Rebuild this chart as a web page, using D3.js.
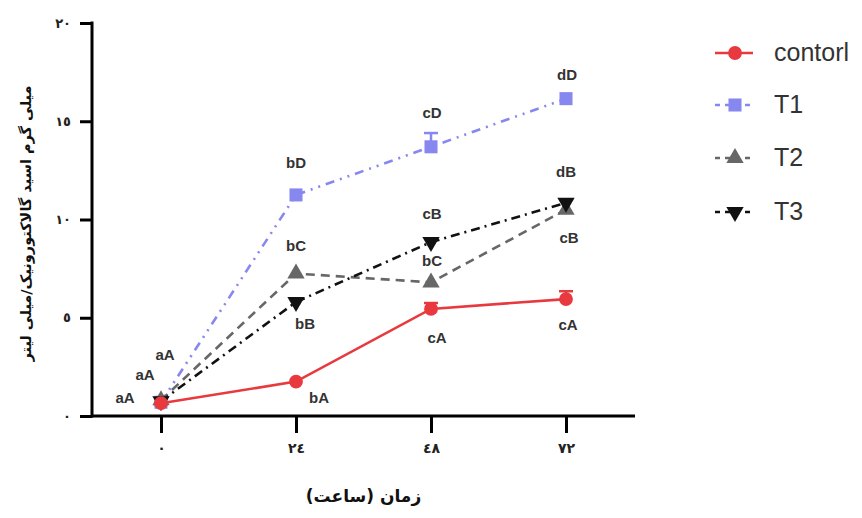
<!DOCTYPE html>
<html>
<head>
<meta charset="utf-8">
<script src="https://cdn.jsdelivr.net/npm/d3@7/dist/d3.min.js"></script>
<style>
  html, body { margin: 0; padding: 0; background: #fff; }
  svg { display: block; }
</style>
</head>
<body>
<svg id="chart" width="862" height="518"></svg>
<script>
// ---------- data ----------
const hours = [0, 24, 48, 72];
const xTickLabels = ["٠", "٢٤", "٤٨", "٧٢"];
const yTicks = [0, 5, 10, 15, 20];
const yTickLabels = ["٠", "٥", "١٠", "١٥", "٢٠"];
const seriesNames = ["contorl", "T1", "T2", "T3"];

const controlValues = [0.65, 1.75, 5.45, 5.95];
const t1Values = [0.7, 11.25, 13.7, 16.15];
const t2Values = [0.8, 7.25, 6.8, 10.5];
const t3Values = [0.75, 5.8, 8.85, 10.85];

const controlErr = [0.1, 0.1, 0.3, 0.4];
const t1Err = [0.1, 0.1, 0.7, 0.1];
const t2Err = [0.1, 0.1, 0.1, 0.1];
const t3Err = [0.1, 0.1, 0.1, 0.1];

const controlLetters = ["aA", "bA", "cA", "cA"];
const t1Letters = ["aA", "bD", "cD", "dD"];
const t2Letters = ["aA", "bC", "bC", "cB"];
const t3Letters = ["", "bB", "cB", "dB"];

const xTitle = "زمان (ساعت)";
const yTitle = "میلی گرم اسید گالاکتورونیک/میلی لیتر";

// ---------- layout / style ----------
const styles = {
  "contorl": { color: "#e8393f", dash: null, marker: "circle", letterOffsets: [[-36,-4],[23,17],[6,30],[2,27]] },
  "T1": { color: "#8787f0", dash: "9,6,2,6,2,6", marker: "square", letterOffsets: [[4,-46],[0,-31],[1,-33],[1,-23]] },
  "T2": { color: "#676767", dash: "9,6", marker: "triangle", letterOffsets: [[-16,-24],[0,-27],[1,-20],[3,29]] },
  "T3": { color: "#111111", dash: "9,5,2,5", marker: "triangleDown", letterOffsets: [[0,0],[9,23],[1,-27],[0,-30]] }
};

const series = [
  { name: "T1", values: t1Values, err: t1Err, letters: t1Letters },
  { name: "T2", values: t2Values, err: t2Err, letters: t2Letters },
  { name: "T3", values: t3Values, err: t3Err, letters: t3Letters },
  { name: "contorl", values: controlValues, err: controlErr, letters: controlLetters }
];

const svg = d3.select("#chart");
const axisX = 92, axisY = 416, axisRight = 635;

const x = d3.scaleLinear().domain([0, 72]).range([161, 566]);
const y = d3.scaleLinear().domain([0, 20]).range([416, 23]);

// ---------- axes ----------
const yAxis = d3.axisLeft(y).tickValues(yTicks).tickSize(12)
  .tickFormat((d, i) => yTickLabels[i]);
const gy = svg.append("g").attr("transform", `translate(${axisX},0)`).call(yAxis);
gy.select(".domain").remove();
gy.selectAll(".tick line").attr("stroke", "#000").attr("stroke-width", 3);
gy.selectAll(".tick text").attr("x", -21)
  .style("font-family", "'DejaVu Sans', sans-serif").style("font-size", "13px").style("font-weight", "bold").attr("fill", "#222");

const xAxis = d3.axisBottom(x).tickValues(hours).tickSize(17)
  .tickFormat((d, i) => xTickLabels[i]);
const gx = svg.append("g").attr("transform", `translate(0,${axisY})`).call(xAxis);
gx.select(".domain").remove();
gx.selectAll(".tick line").attr("stroke", "#000").attr("stroke-width", 3);
gx.selectAll(".tick text").attr("y", 27)
  .style("font-family", "'DejaVu Sans', sans-serif").style("font-size", "14px").style("font-weight", "bold").attr("fill", "#222");

svg.append("line").attr("x1", axisX).attr("x2", axisX).attr("y1", y(20) - 1.5).attr("y2", axisY + 1.5)
  .attr("stroke", "#000").attr("stroke-width", 3);
svg.append("line").attr("x1", axisX).attr("x2", axisRight).attr("y1", axisY).attr("y2", axisY)
  .attr("stroke", "#000").attr("stroke-width", 3);

// axis titles
svg.append("text").attr("x", (x(0) + x(72)) / 2).attr("y", 497)
  .attr("text-anchor", "middle").attr("dominant-baseline", "middle")
  .style("font-family", "'DejaVu Sans', sans-serif").style("font-size", "17px").style("font-weight", "bold")
  .attr("fill", "#111").attr("direction", "rtl").text(xTitle);

svg.append("text").attr("transform", `translate(27,${(y(20) + y(0)) / 2 + 4}) rotate(-90)`)
  .attr("text-anchor", "middle").attr("dominant-baseline", "middle")
  .style("font-family", "'DejaVu Sans', sans-serif").style("font-size", "14.5px").style("font-weight", "bold")
  .attr("fill", "#111").text(yTitle);

// ---------- series ----------
const symbolFor = {
  circle: d3.symbol().type(d3.symbolCircle).size(150),
  square: d3.symbol().type(d3.symbolSquare).size(170),
  triangle: d3.symbol().type(d3.symbolTriangle).size(130),
  triangleDown: d3.symbol().type(d3.symbolTriangle).size(130)
};

const line = d3.line().x((d, i) => x(hours[i])).y(d => y(d));

series.forEach(s => {
  const st = styles[s.name];
  const g = svg.append("g");
  g.append("path").datum(s.values).attr("d", line)
    .attr("fill", "none").attr("stroke", st.color).attr("stroke-width", 2.6)
    .attr("stroke-dasharray", st.dash);
  // error bars
  s.values.forEach((v, i) => {
    if (s.err[i] < 0.15) return;
    g.append("line").attr("x1", x(hours[i])).attr("x2", x(hours[i]))
      .attr("y1", y(v)).attr("y2", y(v + s.err[i])).attr("stroke", st.color).attr("stroke-width", 2.5);
    g.append("line").attr("x1", x(hours[i]) - 7).attr("x2", x(hours[i]) + 7)
      .attr("y1", y(v + s.err[i])).attr("y2", y(v + s.err[i])).attr("stroke", st.color).attr("stroke-width", 2.5);
  });
  // markers
  s.values.forEach((v, i) => {
    const rot = st.marker === "triangleDown" ? 180 : 0;
    g.append("path").attr("d", symbolFor[st.marker]())
      .attr("transform", `translate(${x(hours[i])},${y(v)}) rotate(${rot})`)
      .attr("fill", st.color);
  });
});

// letters (drawn on top)
series.forEach(s => {
  const st = styles[s.name];
  s.letters.forEach((t, i) => {
    if (!t) return;
    const off = st.letterOffsets[i];
    svg.append("text").attr("x", x(hours[i]) + off[0]).attr("y", y(s.values[i]) + off[1])
      .attr("text-anchor", "middle").attr("dominant-baseline", "middle")
      .style("font-family", "'Liberation Sans', Arial, sans-serif").style("font-size", "15px").style("font-weight", "bold")
      .attr("fill", "#333").text(t);
  });
});

// ---------- legend ----------
const legendY = [53, 105, 158, 212];
seriesNames.forEach((name, i) => {
  const st = styles[name];
  const g = svg.append("g").attr("transform", `translate(0,${legendY[i]})`);
  g.append("line").attr("x1", 715).attr("x2", 753).attr("y1", 0).attr("y2", 0)
    .attr("stroke", st.color).attr("stroke-width", 2.6)
    .attr("stroke-dasharray", name === "contorl" ? null : "5,5");
  const rot = st.marker === "triangleDown" ? 180 : 0;
  g.append("path").attr("d", symbolFor[st.marker]())
    .attr("transform", `translate(735,0) rotate(${rot})`).attr("fill", st.color);
  g.append("text").attr("x", 774).attr("y", 1).attr("dominant-baseline", "middle")
    .style("font-family", "'Liberation Sans', Arial, sans-serif").style("font-size", "25px")
    .attr("fill", "#333").text(name);
});
</script>
</body>
</html>
